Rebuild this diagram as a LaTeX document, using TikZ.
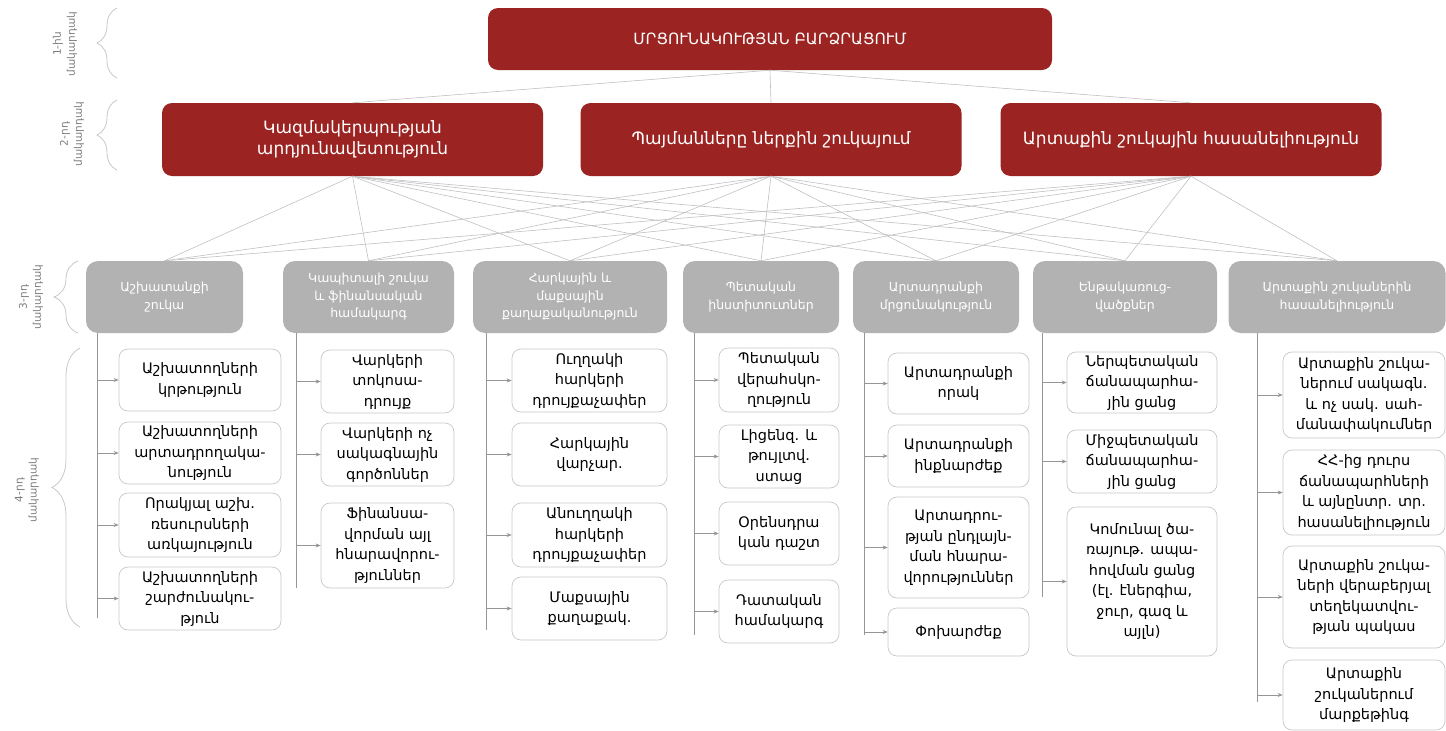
\documentclass[tikz,border=0pt]{standalone}
\usepackage{fontspec}
\setmainfont{DejaVu Sans}
\usetikzlibrary{arrows.meta, positioning, decorations.pathreplacing}

\definecolor{goalred}{RGB}{155,36,34}
\definecolor{factorgray}{RGB}{178,178,178}
\definecolor{leafline}{RGB}{200,200,200}
\definecolor{linkgray}{RGB}{192,192,192}
\definecolor{feedgray}{RGB}{150,150,150}
\definecolor{labelgray}{RGB}{125,125,125}

\begin{document}
\begin{tikzpicture}[
    x=1pt, y=-1pt,
    topbox/.style={rounded corners=10pt, fill=goalred, text=white, minimum width=564pt, minimum height=62pt, font=\fontsize{15.5}{19}\selectfont},
    lvltwo/.style={rounded corners=10pt, fill=goalred, text=white, align=center, minimum width=381pt, minimum height=73pt, font=\fontsize{17}{21}\selectfont},
    lvlthree/.style={rounded corners=12pt, fill=factorgray, text=white, align=center, minimum height=72pt, font=\fontsize{12.5}{17.5}\selectfont},
    leaf/.style={draw=leafline, line width=0.7pt, rounded corners=9pt, fill=white, align=center, inner sep=2pt, minimum width=#1, font=\fontsize{14.5}{20.5}\selectfont},
    link/.style={draw=linkgray, line width=0.6pt},
    spine/.style={draw=feedgray, line width=0.6pt},
    feed/.style={draw=feedgray, line width=0.6pt, -{Stealth[length=5pt,width=4pt]}},
    lvllabel/.style={rotate=90, align=center, text=labelgray, font=\fontsize{10.5}{14}\selectfont},
    lvlbrace/.style={draw=leafline, line width=0.8pt, decorate, decoration={brace, amplitude=#1}}
]
\useasboundingbox (0,0) rectangle (1446,731);

% levels 1 and 2
\node[topbox] (goal) at (770,39) {ՄՐՑՈՒՆԱԿՈՒԹՅԱՆ ԲԱՐՁՐԱՑՈՒՄ};
\node[lvltwo] (org) at (352.5,139.5) {Կազմակերպության\\արդյունավետություն};
\node[lvltwo] (dom) at (771,139.5) {Պայմանները ներքին շուկայում};
\node[lvltwo] (ext) at (1191,139.5) {Արտաքին շուկային հասանելիություն};

% level 3
\node[lvlthree, minimum width=157pt] (lab) at (164.5,297) {Աշխատանքի\\շուկա};
\node[lvlthree, minimum width=171pt] (cap) at (368.5,297) {Կապիտալի շուկա\\և ֆինանսական\\համակարգ};
\node[lvlthree, minimum width=194pt] (tax) at (570,297) {Հարկային և\\մաքսային\\քաղաքականություն};
\node[lvlthree, minimum width=156pt] (gov) at (761,297) {Պետական\\ինստիտուտներ};
\node[lvlthree, minimum width=166pt] (prod) at (936,297) {Արտադրանքի\\մրցունակություն};
\node[lvlthree, minimum width=184pt] (infra) at (1125,297) {Ենթակառուց-\\վածքներ};
\node[lvlthree, minimum width=217pt] (mkt) at (1337,297) {Արտաքին շուկաներին\\հասանելիություն};

\foreach \b in {org,dom,ext}
    \draw[link] (goal.south) -- (\b.north);
\foreach \a in {org,dom,ext}
    \foreach \b in {lab,cap,tax,gov,prod,infra,mkt}
        \draw[link] (\a.south) -- (\b.north);

% level 4
\node[leaf=162pt, minimum height=62pt] (lab1) at (200,380) {Աշխատողների\\կրթություն};
\node[leaf=162pt, minimum height=62pt] (lab2) at (200,453) {Աշխատողների\\արտադրողակա-\\նություն};
\node[leaf=162pt, minimum height=64pt] (lab3) at (200,525) {Որակյալ աշխ.\\ռեսուրսների\\առկայություն};
\node[leaf=162pt, minimum height=63pt] (lab4) at (200,598.5) {Աշխատողների\\շարժունակու-\\թյուն};

\node[leaf=133pt, minimum height=63pt] (cap1) at (387.5,381.5) {Վարկերի\\տոկոսա-\\դրույք};
\node[leaf=133pt, minimum height=63pt] (cap2) at (387.5,454.5) {Վարկերի ոչ\\սակագնային\\գործոններ};
\node[leaf=133pt, minimum height=85pt] (cap3) at (387.5,545.5) {Ֆինանսա-\\վորման այլ\\հնարավորու-\\թյուններ};

\node[leaf=155pt, minimum height=63pt] (tax1) at (589.5,380.5) {Ուղղակի\\հարկերի\\դրույքաչափեր};
\node[leaf=155pt, minimum height=63pt] (tax2) at (589.5,454.5) {Հարկային\\վարչար.};
\node[leaf=155pt, minimum height=64pt] (tax3) at (589.5,535) {Անուղղակի\\հարկերի\\դրույքաչափեր};
\node[leaf=155pt, minimum height=63pt] (tax4) at (589.5,608.5) {Մաքսային\\քաղաքակ.};

\node[leaf=120pt, minimum height=64pt] (gov1) at (779,380) {Պետական\\վերահսկո-\\ղություն};
\node[leaf=120pt, minimum height=63pt] (gov2) at (779,456.5) {Լիցենզ. և\\թույլտվ.\\ստաց};
\node[leaf=120pt, minimum height=63pt] (gov3) at (779,533.5) {Օրենսդրա\\կան դաշտ};
\node[leaf=120pt, minimum height=63pt] (gov4) at (779,611.5) {Դատական\\համակարգ};

\node[leaf=141pt, minimum height=61pt] (prod1) at (958.5,383.5) {Արտադրանքի\\որակ};
\node[leaf=141pt, minimum height=62pt] (prod2) at (958.5,456) {Արտադրանքի\\ինքնարժեք};
\node[leaf=141pt, minimum height=101pt] (prod3) at (958.5,547.5) {Արտադրու-\\թյան ընդլայն-\\ման հնարա-\\վորություններ};
\node[leaf=141pt, minimum height=48pt] (prod4) at (958.5,632) {Փոխարժեք};

\node[leaf=150pt, minimum height=61pt] (infra1) at (1142,382.5) {Ներպետական\\ճանապարհա-\\յին ցանց};
\node[leaf=150pt, minimum height=63pt] (infra2) at (1142,461.5) {Միջպետական\\ճանապարհա-\\յին ցանց};
\node[leaf=150pt, minimum height=149pt] (infra3) at (1142,581.5) {Կոմունալ ծա-\\ռայութ. ապա-\\հովման ցանց\\(էլ. էներգիա,\\ջուր, գազ և\\այլն)};

\node[leaf=162pt, minimum height=86pt] (mkt1) at (1364,395) {Արտաքին շուկա-\\ներում սակագն.\\և ոչ սակ. սահ-\\մանափակումներ};
\node[leaf=162pt, minimum height=85pt] (mkt2) at (1364,492.5) {ՀՀ-ից դուրս\\ճանապարհների\\և այնընտր. տր.\\հասանելիություն};
\node[leaf=162pt, minimum height=102pt] (mkt3) at (1364,597) {Արտաքին շուկա-\\ների վերաբերյալ\\տեղեկատվու-\\թյան պակաս};
\node[leaf=162pt, minimum height=70pt] (mkt4) at (1364,695) {Արտաքին\\շուկաներում\\մարքեթինգ};

% spines and arrows
\coordinate (v1) at (97,333);   \coordinate (e1) at (97,618);
\coordinate (v2) at (296,333);  \coordinate (e2) at (296,588);
\coordinate (v3) at (486,333);  \coordinate (e3) at (486,630);
\coordinate (v4) at (694,333);  \coordinate (e4) at (694,635);
\coordinate (v5) at (864,333);  \coordinate (e5) at (864,635);
\coordinate (v6) at (1042,333); \coordinate (e6) at (1042,597);
\coordinate (v7) at (1257,333); \coordinate (e7) at (1257,702);
\foreach \i in {1,...,7}
    \draw[spine] (v\i) -- (e\i);

\foreach \n in {lab1,lab2,lab3,lab4} \draw[feed] (\n.west -| v1) -- (\n.west);
\foreach \n in {cap1,cap2,cap3} \draw[feed] (\n.west -| v2) -- (\n.west);
\foreach \n in {tax1,tax2,tax3,tax4} \draw[feed] (\n.west -| v3) -- (\n.west);
\foreach \n in {gov1,gov2,gov3,gov4} \draw[feed] (\n.west -| v4) -- (\n.west);
\foreach \n in {prod1,prod2,prod3,prod4} \draw[feed] (\n.west -| v5) -- (\n.west);
\foreach \n in {infra1,infra2,infra3} \draw[feed] (\n.west -| v6) -- (\n.west);
\foreach \n in {mkt1,mkt2,mkt3,mkt4} \draw[feed] (\n.west -| v7) -- (\n.west);

% level labels
\node[lvllabel] (lvl1) at (65,44) {1-ին\\մակարդակ};
\node[lvllabel] (lvl2) at (72,134) {2-րդ\\մակարդակ};
\node[lvllabel] (lvl3) at (31,297) {3-րդ\\մակարդակ};
\node[lvllabel] (lvl4) at (27,490) {4-րդ\\մակարդակ};
\draw[lvlbrace=20pt] (117,78) -- (117,8);
\draw[lvlbrace=20pt] (117,170) -- (117,100);
\draw[lvlbrace=24pt] (78,333) -- (78,261);
\draw[lvlbrace=28pt] (80,627) -- (80,348);

\end{tikzpicture}
\end{document}
